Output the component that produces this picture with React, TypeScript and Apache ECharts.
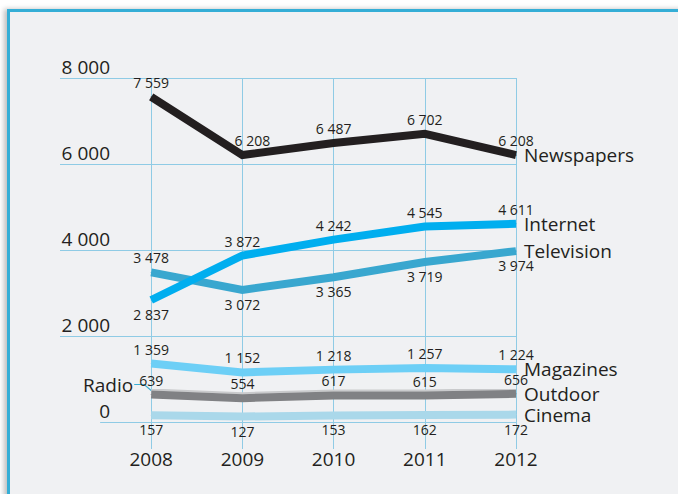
import React, { useEffect, useRef } from "react";
import * as echarts from "echarts";

const YEARS = [2008, 2009, 2010, 2011, 2012];
const NEWSPAPERS = [7559, 6208, 6487, 6702, 6208];
const INTERNET = [2837, 3872, 4242, 4545, 4611];
const TELEVISION = [3478, 3072, 3365, 3719, 3974];
const MAGAZINES = [1359, 1152, 1218, 1257, 1224];
const OUTDOOR = [639, 554, 617, 615, 656];
const CINEMA = [157, 127, 153, 162, 172];
const Y_MIN = 0;
const Y_MAX = 8000;
const Y_STEP = 2000;
const X_MIN = 2007;
const ZERO_LINE_START = 2007.44;

const FONT = '"Open Sans", "Noto Sans", sans-serif';
const TEXT = "#231f20";
const GRIDC = "#8fcbe5";

const fmt = (v: number) => String(v).replace(/\B(?=(\d{3})+(?!\d))/g, " ");

function mk(
  name: string,
  vals: number[],
  color: string,
  pos: "top" | "bottom",
  overrides: Record<number, any> = {},
  extraLine: any = {}
) {
  return {
    name,
    type: "line",
    symbol: "circle",
    symbolSize: 1,
    itemStyle: { color },
    lineStyle: { color, width: 8, cap: "butt", join: "miter", ...extraLine },
    label: {
      show: true,
      position: pos,
      distance: 7,
      fontFamily: FONT,
      fontSize: 14,
      color: TEXT,
      formatter: (p: any) => fmt(p.value[1]),
    },
    endLabel: {
      show: true,
      formatter: name,
      fontFamily: FONT,
      fontSize: 19,
      color: TEXT,
      distance: 8,
    },
    emphasis: { disabled: true },
    data: YEARS.map((y, i) => ({
      value: [y, vals[i]],
      ...(overrides[i] ? { label: overrides[i] } : {}),
    })),
  };
}

export default function App() {
  const ref = useRef<HTMLDivElement>(null);
  useEffect(() => {
    document.body.style.margin = "0";
    const chart = echarts.init(ref.current!, undefined, { renderer: "svg" });
    const cinema: any = mk("Cinema", CINEMA, "#aad8ea", "bottom");
    cinema.markLine = {
      silent: true,
      symbol: "none",
      label: { show: false },
      lineStyle: { color: GRIDC, width: 1, type: "solid" },
      data: [[{ coord: [ZERO_LINE_START, 0] }, { coord: [YEARS[YEARS.length - 1], 0] }]],
    };
    chart.setOption({
      animation: false,
      backgroundColor: "transparent",
      grid: { left: 60, right: 162, top: 78, bottom: 72, containLabel: false },
      xAxis: {
        type: "value",
        min: X_MIN,
        max: YEARS[YEARS.length - 1],
        interval: 1,
        axisLine: { show: false },
        axisTick: {
          show: true,
          customValues: YEARS,
          length: 27,
          lineStyle: { color: GRIDC, width: 1 },
        },
        axisLabel: {
          customValues: YEARS,
          margin: 27,
          fontFamily: FONT,
          fontSize: 19,
          color: TEXT,
          formatter: (v: number) => String(v),
        },
        splitLine: { show: true, lineStyle: { color: GRIDC, width: 1 } },
      },
      yAxis: {
        type: "value",
        min: Y_MIN,
        max: Y_MAX,
        interval: Y_STEP,
        axisLine: { show: false },
        axisTick: { show: false },
        axisLabel: {
          margin: -50,
          fontFamily: FONT,
          fontSize: 19,
          color: TEXT,
          verticalAlign: "bottom",
          padding: [0, 0, 2, 0],
          formatter: (v: number) => fmt(v),
        },
        splitLine: {
          show: true,
          lineStyle: { color: ["transparent", GRIDC, GRIDC, GRIDC, GRIDC], width: 1 },
        },
      },
      series: [
        cinema,
        mk("Outdoor", OUTDOOR, "#808184", "top", {}, { shadowColor: "#c9cacc", shadowOffsetY: -2, shadowBlur: 0 }),
        mk("Magazines", MAGAZINES, "#6dcff6", "top"),
        mk("Television", TELEVISION, "#39a7cf", "bottom", { 0: { position: "top" } }),
        mk("Internet", INTERNET, "#00aeef", "top", { 0: { position: "bottom" } }),
        mk("Newspapers", NEWSPAPERS, "#231f20", "top", { 1: { offset: [10, 0] } }),
      ],
    });
    const p = chart.convertToPixel({ gridIndex: 0 }, [YEARS[0], OUTDOOR[0]]) as number[];
    chart.setOption({
      graphic: [
        {
          type: "polyline",
          silent: true,
          shape: {
            points: [
              [p[0] - 17, p[1] - 10],
              [p[0] - 7, p[1] - 10],
              [p[0], p[1] - 4],
            ],
          },
          style: { stroke: "#3aaed4", lineWidth: 1.2, fill: "none" },
        },
        {
          type: "text",
          silent: true,
          x: p[0] - 18,
          y: p[1] - 10,
          style: {
            text: "Radio",
            fill: TEXT,
            fontSize: 19,
            fontFamily: FONT,
            align: "right",
            verticalAlign: "middle",
          },
        },
      ],
    });
    return () => chart.dispose();
  }, []);
  return (
    <div style={{ position: "relative", width: 678, height: 494, background: "#ffffff", overflow: "hidden" }}>
      <div
        style={{
          position: "absolute",
          left: 7,
          top: 9,
          width: 720,
          height: 520,
          background: "#f0f1f3",
          borderLeft: "3px solid #35aed6",
          borderTop: "3px solid #35aed6",
          boxShadow: "-3px 0 5px rgba(0,0,0,0.25)",
        }}
      />
      <div ref={ref} style={{ position: "absolute", left: 0, top: 0, width: 678, height: 494 }} />
    </div>
  );
}
